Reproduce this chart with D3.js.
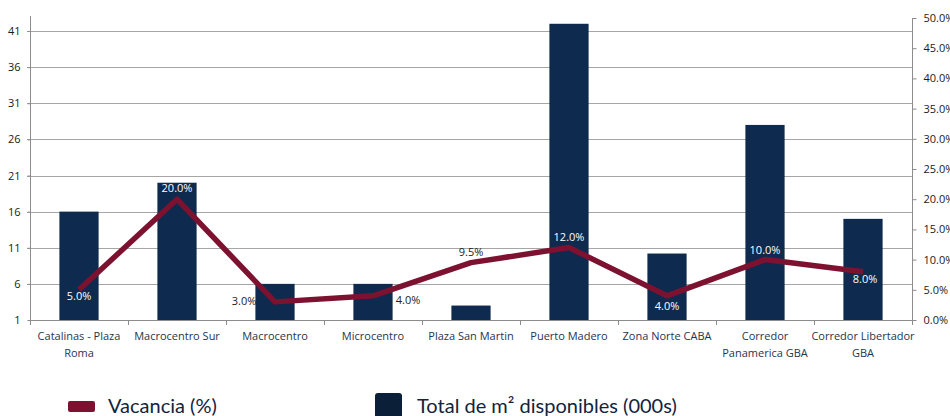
<!DOCTYPE html>
<html lang="es">
<head>
<meta charset="utf-8">
<title>Vacancia y m2 disponibles</title>
<script src="https://cdnjs.cloudflare.com/ajax/libs/d3/7.8.5/d3.min.js"></script>
<style>
  body { margin: 0; background: #fff; }
  svg { display: block; font-family: "Open Sans", sans-serif; }
</style>
</head>
<body>
<script>
// data
var zonas = ["Catalinas - Plaza Roma", "Macrocentro Sur", "Macrocentro", "Microcentro",
  "Plaza San Martin", "Puerto Madero", "Zona Norte CABA", "Corredor Panamerica GBA",
  "Corredor Libertador GBA"];
var disponibles = [16, 20, 6, 6, 3, 42, 10.2, 28, 15];
var vacancia = [5, 20, 3, 4, 9.5, 12, 4, 10, 8];
var leftTicks = [1, 6, 11, 16, 21, 26, 31, 36, 41];
var rightTicks = [0, 5, 10, 15, 20, 25, 30, 35, 40, 45, 50];
// label placement per point: dx, dy, colour
var labelPos = [
  [0, 10, "#fff"], [0, -7, "#fff"], [-31, 3, "#222"], [35, 8, "#222"],
  [0, -7, "#222"], [0, -7, "#fff"], [0, 14, "#fff"], [0, -6, "#fff"], [2, 11, "#fff"]
];

var w = 950, h = 416;
var mLeft = 30, mRight = 912, mTop = 18, mBottom = 320;

var svg = d3.select("body").append("svg")
  .attr("width", w).attr("height", h);

var x = d3.scaleBand().domain(zonas).range([mLeft, mRight]).paddingInner(0.6).paddingOuter(0.3);
var xb = d3.scaleBand().domain(zonas).range([mLeft, mRight]);
var yL = d3.scaleLinear().domain([1, 42.8]).range([mBottom, mTop]);
var yR = d3.scaleLinear().domain([0, 50]).range([mBottom, mTop]);

// gridlines
svg.append("g").selectAll("line")
  .data(leftTicks.slice(1))
  .enter().append("line")
  .attr("x1", mLeft - 3).attr("x2", mRight)
  .attr("y1", function(d) { return Math.round(yL(d)) + 0.5; })
  .attr("y2", function(d) { return Math.round(yL(d)) + 0.5; })
  .attr("stroke", "#a6a6a6").attr("stroke-width", 1);

// left axis
var gl = svg.append("g").attr("transform", "translate(" + (mLeft + 0.5) + ",0)")
  .call(d3.axisLeft(yL).tickValues(leftTicks).tickSize(3).tickPadding(7));
gl.select(".domain").attr("d", "M0," + (mTop - 2) + "V" + mBottom);

// right axis
var gr = svg.append("g").attr("transform", "translate(" + (mRight + 0.5) + ",0)")
  .call(d3.axisRight(yR).tickValues(rightTicks).tickSize(4).tickPadding(7)
    .tickFormat(function(d) { return d.toFixed(1) + "%"; }));
gr.select(".domain").attr("d", "M0," + mTop + "V" + mBottom);

svg.selectAll(".domain, .tick line").attr("stroke", "#8c8c8c");
svg.selectAll(".tick text").attr("fill", "#1a1a1a").style("font-size", "11px")
  .style("font-family", "Open Sans, sans-serif");

// bars
svg.append("g").selectAll("rect")
  .data(disponibles)
  .enter().append("rect")
  .attr("x", function(d, i) { return x(zonas[i]); })
  .attr("width", x.bandwidth())
  .attr("y", function(d) { return yL(d); })
  .attr("height", function(d) { return mBottom - yL(d); })
  .attr("fill", "#0e2a4e");

// x axis
svg.append("line")
  .attr("x1", mLeft).attr("x2", mRight).attr("y1", mBottom + 0.5).attr("y2", mBottom + 0.5)
  .attr("stroke", "#8c8c8c");
svg.append("g").selectAll("line")
  .data(zonas.concat(["end"]))
  .enter().append("line")
  .attr("x1", function(d, i) { return Math.round(mLeft + i * xb.step()) + 0.5; })
  .attr("x2", function(d, i) { return Math.round(mLeft + i * xb.step()) + 0.5; })
  .attr("y1", mBottom).attr("y2", mBottom + 5)
  .attr("stroke", "#8c8c8c");

// category labels, wrapped like the original
var wraps = [["Catalinas - Plaza", "Roma"], ["Macrocentro Sur"], ["Macrocentro"], ["Microcentro"],
  ["Plaza San Martin"], ["Puerto Madero"], ["Zona Norte CABA"], ["Corredor", "Panamerica GBA"],
  ["Corredor Libertador", "GBA"]];
var cat = svg.append("g").selectAll("text")
  .data(zonas)
  .enter().append("text")
  .attr("x", function(d) { return xb(d) + xb.bandwidth() / 2; })
  .attr("y", mBottom + 20)
  .attr("text-anchor", "middle")
  .attr("fill", "#1f3550")
  .style("font-size", "11px");
cat.each(function(d, i) {
  var t = d3.select(this);
  wraps[i].forEach(function(line, j) {
    t.append("tspan").attr("x", xb(d) + xb.bandwidth() / 2).attr("dy", j ? 17 : 0).text(line);
  });
});

// vacancy line
var line = d3.line()
  .x(function(d, i) { return xb(zonas[i]) + xb.bandwidth() / 2; })
  .y(function(d) { return yR(d); });
svg.append("path")
  .datum(vacancia)
  .attr("d", line)
  .attr("fill", "none")
  .attr("stroke", "#7d1230")
  .attr("stroke-width", 5.5)
  .attr("stroke-linejoin", "round");

// data labels
svg.append("g").selectAll("text")
  .data(vacancia)
  .enter().append("text")
  .attr("x", function(d, i) { return xb(zonas[i]) + xb.bandwidth() / 2 + labelPos[i][0]; })
  .attr("y", function(d, i) { return yR(d) + labelPos[i][1]; })
  .attr("text-anchor", "middle")
  .attr("fill", function(d, i) { return labelPos[i][2]; })
  .style("font-size", "11px")
  .text(function(d) { return d.toFixed(1) + "%"; });

// legend
var lg = svg.append("g").style("font-family", "Lato, sans-serif").style("font-size", "20px");
lg.append("rect").attr("x", 68).attr("y", 401).attr("width", 27).attr("height", 11).attr("rx", 2)
  .attr("fill", "#7d1230");
lg.append("text").attr("x", 108).attr("y", 413).attr("fill", "#12233d").text("Vacancia (%)");
lg.append("rect").attr("x", 375).attr("y", 393).attr("width", 27).attr("height", 25).attr("rx", 3)
  .attr("fill", "#0c1f38");
lg.append("text").attr("x", 417).attr("y", 413).attr("fill", "#12233d").text("Total de m² disponibles (000s)");
</script>
</body>
</html>
